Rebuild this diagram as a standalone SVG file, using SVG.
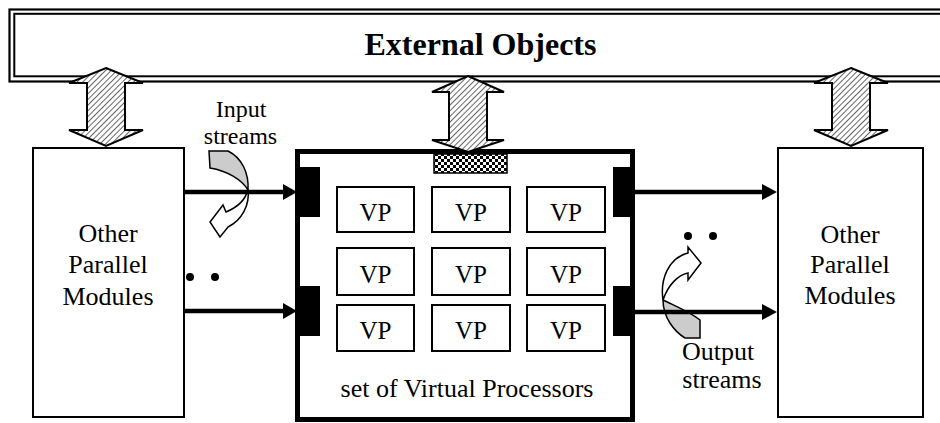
<svg xmlns="http://www.w3.org/2000/svg" width="940" height="423" viewBox="0 0 940 423" font-family="'Liberation Serif', 'Times New Roman', Tinos, 'DejaVu Serif', serif">
<style>
.box{fill:#fff;stroke:#000;stroke-width:2}
.vp{fill:#fff;stroke:#000;stroke-width:2}
.vpt{font-size:25px;text-anchor:middle}
.lbl{font-size:26px;text-anchor:middle}
.hat{fill:url(#hatch);stroke:#000;stroke-width:2;stroke-linejoin:miter}
.conn{stroke:#000;stroke-width:4.5;fill:none}
.head{fill:#000}
.port{fill:#000}
.dot{fill:#000}
</style>
<defs>
<pattern id="hatch" patternUnits="userSpaceOnUse" width="4" height="4" patternTransform="rotate(45)">
<rect width="4" height="4" fill="#fff"/>
<line x1="0" y1="0" x2="0" y2="4" stroke="#000" stroke-width="1.2"/>
</pattern>
<pattern id="check" patternUnits="userSpaceOnUse" width="6" height="6">
<rect width="6" height="6" fill="#fff"/>
<rect width="3" height="3" fill="#000"/>
<rect x="3" y="3" width="3" height="3" fill="#000"/>
</pattern>
</defs>
<rect width="940" height="423" fill="#fff"/>

<g id="external-objects">
<rect x="9.5" y="9.5" width="960" height="72" fill="#fff" stroke="#000" stroke-width="2.2"/>
<rect x="14.3" y="13.8" width="960" height="62.5" fill="none" stroke="#000" stroke-width="2"/>
<text x="480.5" y="55" font-size="32" font-weight="bold" text-anchor="middle">External Objects</text>
</g>

<g id="left-modules">
<rect class="box" x="33" y="148" width="151" height="269"/>
<text class="lbl" x="108" y="242">Other</text>
<text class="lbl" x="108" y="273">Parallel</text>
<text class="lbl" x="108" y="305">Modules</text>
</g>

<g id="right-modules">
<rect class="box" x="778" y="148" width="145" height="269"/>
<text class="lbl" x="850" y="243">Other</text>
<text class="lbl" x="850" y="273">Parallel</text>
<text class="lbl" x="850" y="304">Modules</text>
</g>

<g id="vp-set">
<rect x="297.5" y="151.5" width="335" height="268" fill="#fff" stroke="#000" stroke-width="5"/>
<rect x="434" y="154" width="73" height="19" fill="url(#check)" stroke="#000" stroke-width="1.5"/>
<rect class="port" x="297" y="167" width="23" height="50"/>
<rect class="port" x="297" y="286" width="23" height="50"/>
<rect class="port" x="613" y="167" width="22" height="50"/>
<rect class="port" x="613" y="286" width="22" height="50"/>
<g id="vp-grid">
<rect class="vp" x="337" y="187" width="77" height="45"/>
<rect class="vp" x="432" y="187" width="78" height="45"/>
<rect class="vp" x="527" y="187" width="78" height="45"/>
<rect class="vp" x="337" y="248" width="77" height="47"/>
<rect class="vp" x="432" y="248" width="78" height="47"/>
<rect class="vp" x="527" y="248" width="78" height="47"/>
<rect class="vp" x="337" y="305" width="77" height="46"/>
<rect class="vp" x="432" y="305" width="78" height="46"/>
<rect class="vp" x="527" y="305" width="78" height="46"/>
<text class="vpt" x="375.5" y="221">VP</text>
<text class="vpt" x="471" y="221">VP</text>
<text class="vpt" x="566" y="221">VP</text>
<text class="vpt" x="375.5" y="283">VP</text>
<text class="vpt" x="471" y="283">VP</text>
<text class="vpt" x="566" y="283">VP</text>
<text class="vpt" x="375.5" y="339">VP</text>
<text class="vpt" x="471" y="339">VP</text>
<text class="vpt" x="566" y="339">VP</text>
</g>
<text class="lbl" x="467" y="397">set of Virtual Processors</text>
</g>

<g id="external-links">
<polygon class="hat" points="106,68 143,83 125,83 125,130 143,130 106,146 69,130 87,130 87,83 69,83"/>
<polygon class="hat" points="468,76 504,92 487,92 487,140 504,140 468,152 432,140 449,140 449,92 432,92"/>
<polygon class="hat" points="851,68 888,83 870,83 870,130 888,130 851,146 814,130 832,130 832,83 814,83"/>
</g>

<g id="input-streams">
<text x="241" y="117" font-size="24" text-anchor="middle">Input</text>
<text x="240.5" y="144" font-size="24" text-anchor="middle">streams</text>
<path d="M209,151 L228,151 C242,158 249,173 248,190 C242,180 228,171 210,168 Z" fill="#ccc" stroke="#000" stroke-width="1.5"/>
<path d="M248,189 C250,205 242,220 228,227 L220,237 L210,222 L223,205 L226,212 C238,207 246,199 248,189 Z" fill="#fff" stroke="#000" stroke-width="1.5"/>
<circle class="dot" cx="190" cy="277" r="4"/>
<circle class="dot" cx="215" cy="277" r="4"/>
</g>

<g id="output-streams">
<text x="718" y="360" font-size="26" text-anchor="middle">Output</text>
<text x="722" y="388" font-size="26" text-anchor="middle">streams</text>
<path d="M663,300 C663,318 675,332 685,338 L700,338 L700,320 C690,312 675,306 663,300 Z" fill="#ccc" stroke="#000" stroke-width="1.5"/>
<path d="M663,300 C660,280 668,258 688,253 L688,247 L701,263 L688,280 L688,273 C678,275 668,285 663,300 Z" fill="#fff" stroke="#000" stroke-width="1.5"/>
<circle class="dot" cx="688" cy="236" r="4"/>
<circle class="dot" cx="713" cy="236" r="4"/>
</g>

<g id="connectors">
<line class="conn" x1="184" y1="192" x2="284" y2="192"/>
<polygon class="head" points="283,184 297,192 283,200"/>
<line class="conn" x1="184" y1="311" x2="284" y2="311"/>
<polygon class="head" points="283,303 297,311 283,319"/>
<line class="conn" x1="635" y1="192" x2="763" y2="192"/>
<polygon class="head" points="762,184 777,192 762,200"/>
<line class="conn" x1="635" y1="312" x2="763" y2="312"/>
<polygon class="head" points="762,304 777,312 762,320"/>
</g>
</svg>
